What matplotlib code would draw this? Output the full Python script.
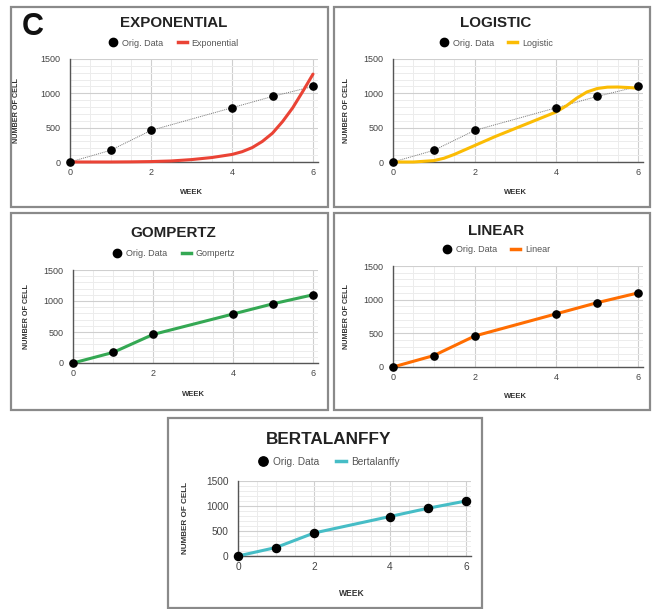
import numpy as np
import matplotlib
matplotlib.use("Agg")
import matplotlib.pyplot as plt
from matplotlib.lines import Line2D
from matplotlib.patches import Rectangle
from matplotlib.ticker import MultipleLocator

plt.rcParams["font.family"] = ["Liberation Sans", "DejaVu Sans"]

# original data
weeks = [0, 1, 2, 4, 5, 6]
cells = [0, 170, 460, 790, 955, 1100]

# fitted curves
exp_weeks = [0, 0.5, 1, 1.5, 2, 2.5, 3, 3.5, 4, 4.25, 4.5, 4.75, 5, 5.25, 5.5, 5.75, 6]
exp_cells = [0, 0, 0, 2, 6, 15, 35, 65, 110, 150, 210, 300, 420, 590, 790, 1030, 1280]

log_weeks = [0, 0.5, 1, 1.25, 1.5, 2, 2.5, 3, 3.5, 4, 4.25, 4.5, 4.75, 5, 5.25, 5.5, 5.75, 6]
log_cells = [0, 0, 20, 55, 110, 240, 370, 490, 610, 730, 820, 930, 1020, 1070, 1090, 1092, 1085, 1075]

gom_cells = [0, 170, 460, 790, 955, 1100]
lin_cells = [0, 170, 460, 790, 955, 1100]
ber_cells = [0, 170, 460, 790, 955, 1100]

W, H = 655, 609
fig = plt.figure(figsize=(W / 100, H / 100), dpi=100)


def fx(px):
    return px / W


def fy(py):
    return 1 - py / H


# name, color, curve x, curve y, box, plot (x0, x6, y1500, y0), title y, legend y, week y, ylabel x, scale, title size
panels = [
    ("EXPONENTIAL", "Exponential", "#ea4335", exp_weeks, exp_cells, (11, 7, 328, 207),
     (70, 313, 59, 162), 23, 43, 193, 16, 1.0, True, 10.9),
    ("LOGISTIC", "Logistic", "#fbbc04", log_weeks, log_cells, (334, 7, 650, 207),
     (393, 638, 59, 162), 23, 43, 193, 347, 1.0, True, 10.9),
    ("GOMPERTZ", "Gompertz", "#34a853", weeks, gom_cells, (11, 213, 328, 410),
     (73, 313, 270, 363), 233, 254, 395, 27, 1.0, False, 10.9),
    ("LINEAR", "Linear", "#ff6d01", weeks, lin_cells, (334, 213, 650, 410),
     (393, 638, 266, 367), 231, 250, 396, 347, 1.0, False, 10.9),
    ("BERTALANFFY", "Bertalanffy", "#46bdc6", weeks, ber_cells, (168, 418, 482, 608),
     (238, 466, 481, 556), 439, 462, 593, 185, 1.12, False, 12.3),
]

for (title, name, color, cx, cy, box, area, ty, ly, wy, ylx, s, dotted, tsize) in panels:
    bx0, by0, bx1, by1 = box
    fig.patches.append(Rectangle((fx(bx0), fy(by1)), (bx1 - bx0) / W, (by1 - by0) / H,
                                 transform=fig.transFigure, fill=False,
                                 edgecolor="#8a8a8a", linewidth=1.6))
    x0, x6, yt, yb = area
    xmax = 6.12
    ax = fig.add_axes([fx(x0), fy(yb), (x6 - x0) / W * xmax / 6, (yb - yt) / H])
    ax.set_xlim(0, xmax)
    ax.set_ylim(0, 1500)
    ax.xaxis.set_major_locator(MultipleLocator(2))
    ax.xaxis.set_minor_locator(MultipleLocator(0.5))
    ax.yaxis.set_major_locator(MultipleLocator(500))
    ax.yaxis.set_minor_locator(MultipleLocator(100))
    ax.grid(which="major", color="#cfcfcf", linewidth=0.8)
    ax.grid(which="minor", color="#ececec", linewidth=0.7)
    ax.set_axisbelow(True)
    for sp in ["top", "right"]:
        ax.spines[sp].set_visible(False)
    ax.spines["left"].set_color("#555555")
    ax.spines["bottom"].set_color("#555555")
    ax.spines["left"].set_linewidth(1.0)
    ax.spines["bottom"].set_linewidth(1.0)
    ax.tick_params(which="both", length=0, labelsize=6.5 * s, colors="#444444")
    ax.tick_params(axis="y", pad=7)
    ax.tick_params(axis="x", pad=4)

    if dotted:
        ax.plot(weeks, cells, linestyle=(0, (1, 1)), color="#777777", linewidth=0.7, zorder=2)
    ax.plot(cx, cy, color=color, linewidth=2.2, solid_capstyle="round",
            solid_joinstyle="round", zorder=3, clip_on=False)
    ax.plot(weeks, cells, "o", color="black", markersize=5.2 * s, zorder=4, clip_on=False)

    fig.text(fx((bx0 + bx1) / 2 + 4), fy(ty), title, ha="center", va="center",
             fontsize=tsize, fontweight="bold", color="#222222")
    handles = [Line2D([], [], marker="o", color="black", linestyle="none", markersize=6 * s),
               Line2D([], [], color=color, linewidth=2.5)]
    ax.legend(handles, ["Orig. Data", name], loc="center", ncol=2, frameon=False,
              bbox_to_anchor=(fx((bx0 + bx1) / 2 + 4), fy(ly)), bbox_transform=fig.transFigure,
              fontsize=6.5 * s, handlelength=1.0, handletextpad=0.5, columnspacing=1.6,
              labelcolor="#555555")
    fig.text(fx((x0 + x6) / 2), fy(wy), "WEEK", ha="center", va="center",
             fontsize=5.5 * s, fontweight="bold", color="#333333")
    fig.text(fx(ylx), fy((yt + yb) / 2), "NUMBER OF CELL", ha="center", va="center",
             rotation=90, fontsize=5.2 * s, fontweight="bold", color="#333333")

fig.text(fx(22), fy(27), "C", ha="left", va="center", fontsize=22, fontweight="bold", color="#111111")

fig.savefig("out.png", dpi=100)
